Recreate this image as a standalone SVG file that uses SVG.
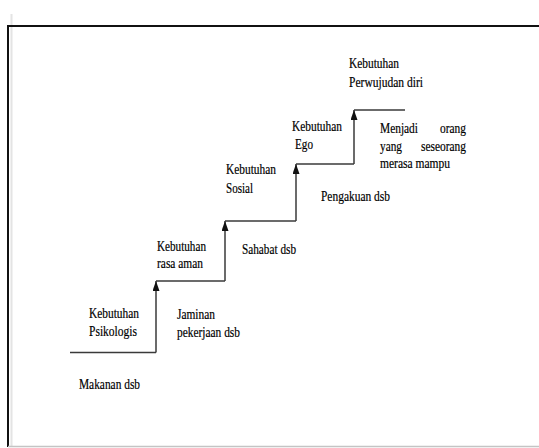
<svg xmlns="http://www.w3.org/2000/svg" width="539" height="448" viewBox="0 0 539 448">
<style>
.t{font-family:"Liberation Serif","Times New Roman",serif;font-size:15px;fill:#000;stroke:#000;stroke-width:0.2}
.s{stroke:#3a3a3a;stroke-width:1.5;fill:none}
</style>
<defs>
<marker id="ah" viewBox="0 0 10 7" refX="10" refY="3.5" markerWidth="10" markerHeight="7" markerUnits="userSpaceOnUse" orient="auto">
<path d="M0,0 L10,3.5 L0,7 z" fill="#111"/>
</marker>
</defs>
<rect width="539" height="448" fill="#fff"/>
<g id="frame">
<line x1="11.5" y1="14" x2="11.5" y2="446" stroke="#e4e4e4" stroke-width="2"/>
<line x1="8" y1="26" x2="539" y2="26" stroke="#111" stroke-width="2"/>
<line x1="8" y1="25" x2="8" y2="447" stroke="#111" stroke-width="2"/>
<line x1="8" y1="446.5" x2="539" y2="446.5" stroke="#c4c4c4" stroke-width="1.5"/>
</g>
<g id="connectors">
<path class="s" d="M70,352.5 H156"/>
<path class="s" d="M156,352.5 V281" marker-end="url(#ah)"/>
<path class="s" d="M156,281 H225"/>
<path class="s" d="M225,281 V221" marker-end="url(#ah)"/>
<path class="s" d="M225,221 H296"/>
<path class="s" d="M296,221 V164" marker-end="url(#ah)"/>
<path class="s" d="M296,164 H354"/>
<path class="s" d="M354,164 V110" marker-end="url(#ah)"/>
<path class="s" d="M354,110 H405"/>
</g>
<g id="psikologis">
<text class="t" x="89" y="318" textLength="50" lengthAdjust="spacingAndGlyphs">Kebutuhan</text>
<text class="t" x="89" y="336" textLength="48" lengthAdjust="spacingAndGlyphs">Psikologis</text>
<text class="t" x="79" y="389" textLength="61" lengthAdjust="spacingAndGlyphs">Makanan dsb</text>
</g>
<g id="rasa-aman">
<text class="t" x="157" y="251" textLength="49" lengthAdjust="spacingAndGlyphs">Kebutuhan</text>
<text class="t" x="157" y="268" textLength="46" lengthAdjust="spacingAndGlyphs">rasa aman</text>
<text class="t" x="177" y="319" textLength="38" lengthAdjust="spacingAndGlyphs">Jaminan</text>
<text class="t" x="177" y="337" textLength="63" lengthAdjust="spacingAndGlyphs">pekerjaan dsb</text>
</g>
<g id="sosial">
<text class="t" x="226" y="174" textLength="50" lengthAdjust="spacingAndGlyphs">Kebutuhan</text>
<text class="t" x="226" y="193" textLength="27" lengthAdjust="spacingAndGlyphs">Sosial</text>
<text class="t" x="242" y="254" textLength="54" lengthAdjust="spacingAndGlyphs">Sahabat dsb</text>
</g>
<g id="ego">
<text class="t" x="292" y="131" textLength="50" lengthAdjust="spacingAndGlyphs">Kebutuhan</text>
<text class="t" x="295" y="149" textLength="18" lengthAdjust="spacingAndGlyphs">Ego</text>
<text class="t" x="321" y="201" textLength="69" lengthAdjust="spacingAndGlyphs">Pengakuan dsb</text>
</g>
<g id="perwujudan-diri">
<text class="t" x="349" y="68" textLength="50" lengthAdjust="spacingAndGlyphs">Kebutuhan</text>
<text class="t" x="349" y="87" textLength="74" lengthAdjust="spacingAndGlyphs">Perwujudan diri</text>
<text class="t" x="380" y="133" textLength="38" lengthAdjust="spacingAndGlyphs">Menjadi</text>
<text class="t" x="440" y="133" textLength="26" lengthAdjust="spacingAndGlyphs">orang</text>
<text class="t" x="380" y="151" textLength="22" lengthAdjust="spacingAndGlyphs">yang</text>
<text class="t" x="421" y="151" textLength="45" lengthAdjust="spacingAndGlyphs">seseorang</text>
<text class="t" x="380" y="168" textLength="70" lengthAdjust="spacingAndGlyphs">merasa mampu</text>
</g>
</svg>
